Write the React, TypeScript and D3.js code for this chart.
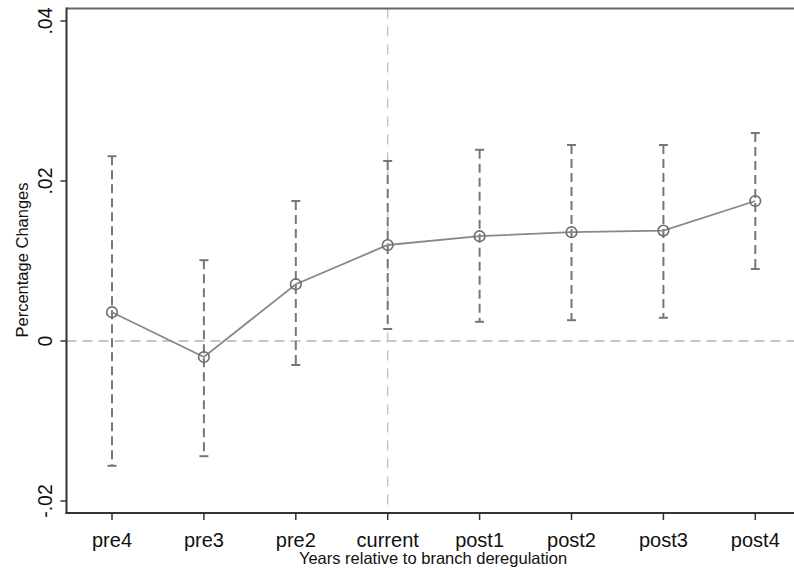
import React from "react";
import * as d3 from "d3";

const categories = ["pre4", "pre3", "pre2", "current", "post1", "post2", "post3", "post4"];
const estimates = [0.0036, -0.002, 0.0071, 0.012, 0.0131, 0.0136, 0.0138, 0.0175];
const upper = [0.0231, 0.0101, 0.0175, 0.0225, 0.0239, 0.0245, 0.0245, 0.026];
const lower = [-0.0156, -0.0144, -0.003, 0.0015, 0.0024, 0.0026, 0.0029, 0.009];
const yTicks = [-0.02, 0, 0.02, 0.04];
const yTickLabels = ["-.02", "0", ".02", ".04"];

const W = 794;
const H = 570;
const left = 66.5;
const top = 8.5;
const bottom = 513;
const right = 800;

export default function App() {
  const x = d3.scalePoint<string>().domain(categories).range([112, 755.3]);
  const y = d3.scaleLinear().domain([-0.02, 0.04]).range([501, 21]);
  const line = d3
    .line<number>()
    .x((_, i) => x(categories[i]) as number)
    .y((d) => y(d));
  const font = "Arial, 'Liberation Sans', Helvetica, sans-serif";
  const xCur = x("current") as number;

  return (
    <svg
      width={W}
      height={H}
      style={{ position: "absolute", left: 0, top: 0, background: "#fff" }}
      fontFamily={font}
    >
      <rect x={0} y={0} width={W} height={H} fill="#fff" />
      {/* reference lines */}
      <line x1={left} x2={right} y1={y(0)} y2={y(0)} stroke="#a9bab2" strokeWidth={1.3} strokeDasharray="10,6" />
      <line x1={xCur} x2={xCur} y1={top} y2={bottom} stroke="#b9c6c2" strokeWidth={1.3} strokeDasharray="10,8" />
      {/* error bars */}
      {categories.map((c, i) => {
        const cx = x(c) as number;
        return (
          <g key={c} stroke="#777" strokeWidth={2}>
            <line x1={cx} x2={cx} y1={y(upper[i])} y2={y(lower[i])} strokeDasharray="9,5" />
            <line x1={cx - 4.5} x2={cx + 4.5} y1={y(upper[i])} y2={y(upper[i])} />
            <line x1={cx - 4.5} x2={cx + 4.5} y1={y(lower[i])} y2={y(lower[i])} />
          </g>
        );
      })}
      {/* connecting line */}
      <path d={line(estimates) || ""} fill="none" stroke="#888" strokeWidth={1.8} />
      {categories.map((c, i) => (
        <circle key={c} cx={x(c) as number} cy={y(estimates[i])} r={5.3} fill="none" stroke="#6c6c6c" strokeWidth={1.6} />
      ))}
      {/* frame */}
      <line x1={left} x2={right} y1={top} y2={top} stroke="#666" strokeWidth={2} />
      <line x1={left} x2={left} y1={top - 1} y2={bottom + 1} stroke="#333" strokeWidth={2} />
      <line x1={left - 1} x2={right} y1={bottom} y2={bottom} stroke="#333" strokeWidth={2} />
      {/* y ticks */}
      {yTicks.map((t, i) => (
        <g key={t}>
          <line x1={left - 6} x2={left} y1={y(t)} y2={y(t)} stroke="#333" strokeWidth={1.5} />
          <text
            transform={`translate(${52},${y(t)}) rotate(-90)`}
            textAnchor="middle"
            fontSize={19.5}
            fill="#111"
          >
            {yTickLabels[i]}
          </text>
        </g>
      ))}
      {/* x ticks */}
      {categories.map((c) => (
        <g key={c}>
          <line x1={x(c) as number} x2={x(c) as number} y1={bottom} y2={bottom + 7} stroke="#333" strokeWidth={1.5} />
          <text x={x(c) as number} y={547} textAnchor="middle" fontSize={20} fill="#111">
            {c}
          </text>
        </g>
      ))}
      <text x={433} y={564} textAnchor="middle" fontSize={16.5} fill="#111">
        Years relative to branch deregulation
      </text>
      <text transform={`translate(28,260) rotate(-90)`} textAnchor="middle" fontSize={16.5} fill="#111">
        Percentage Changes
      </text>
    </svg>
  );
}
